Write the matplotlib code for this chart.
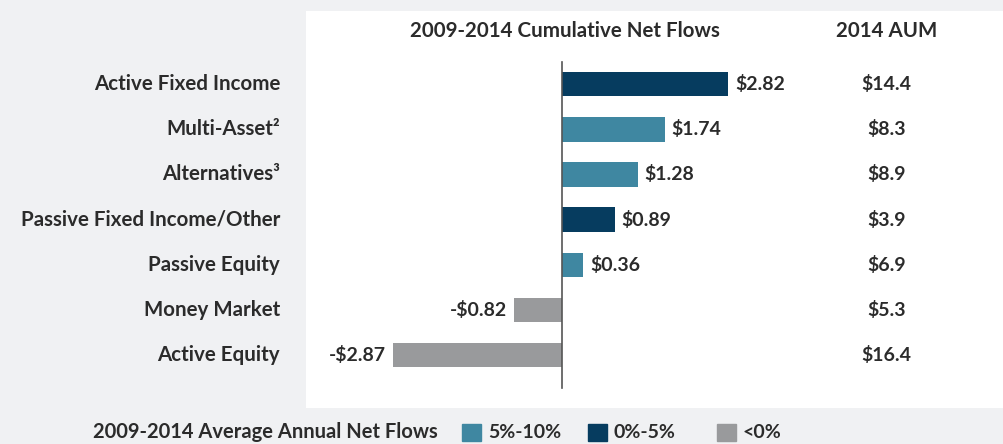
import matplotlib
matplotlib.use("Agg")
import matplotlib.pyplot as plt
from matplotlib.patches import Rectangle

categories = ["Active Fixed Income", "Multi-Asset\u00b2", "Alternatives\u00b3",
              "Passive Fixed Income/Other", "Passive Equity", "Money Market", "Active Equity"]
net_flows = [2.82, 1.74, 1.28, 0.89, 0.36, -0.82, -2.87]
flow_labels = ["$2.82", "$1.74", "$1.28", "$0.89", "$0.36", "-$0.82", "-$2.87"]
aum_labels = ["$14.4", "$8.3", "$8.9", "$3.9", "$6.9", "$5.3", "$16.4"]
growth_band = ["0%-5%", "5%-10%", "5%-10%", "0%-5%", "5%-10%", "<0%", "<0%"]

band_colors = {"5%-10%": "#3f87a1", "0%-5%": "#063c5f", "<0%": "#999a9c"}
legend_order = ["5%-10%", "0%-5%", "<0%"]

plt.rcParams['font.family'] = ['Lato', 'DejaVu Sans']
W, H = 1004, 444
fig = plt.figure(figsize=(W / 100, H / 100), dpi=100, facecolor="#f0f1f3")

# white panel holding the bars
ax = fig.add_axes([306 / W, 1 - 408 / H, (W - 306) / W, (408 - 11) / H])
ax.set_facecolor("white")
ax.set_xlim(-4.34, 7.49)
ax.set_ylim(7.17, -1.62)
for s in ax.spines.values():
    s.set_visible(False)
ax.set_xticks([])
ax.set_yticks([])

txt = dict(color="#2b2b2b", fontsize=14.8, fontweight="bold")
small = dict(txt, fontsize=14)

ypos = list(range(len(categories)))
ax.barh(ypos, net_flows, height=0.54,
        color=[band_colors[b] for b in growth_band])
ax.plot([0, 0], [-0.49, 6.73], color="#555555", lw=1.2)

for y, v, lab, aum, cat in zip(ypos, net_flows, flow_labels, aum_labels, categories):
    if v >= 0:
        ax.text(v + 0.12, y, lab, ha="left", va="center", **small)
    else:
        ax.text(v - 0.12, y, lab, ha="right", va="center", **small)
    ax.text(5.5, y, aum, ha="center", va="center", **small)
    ax.text(-4.78, y, cat, ha="right", va="center", clip_on=False, **txt)

ax.text(0.05, -1.18, "2009-2014 Cumulative Net Flows", ha="center", va="center", **txt)
ax.text(5.5, -1.18, "2014 AUM", ha="center", va="center", **txt)

# legend strip below the panel
ly = 1 - 432 / H
fig.text(93 / W, ly, "2009-2014 Average Annual Net Flows", ha="left", va="center",
         **dict(txt, fontsize=14.5))
sq_x = [462, 588, 717]
for x, band in zip(sq_x, legend_order):
    fig.patches.append(Rectangle((x / W, 1 - 441 / H), 19 / W, 17 / H,
                                 transform=fig.transFigure, color=band_colors[band]))
    fig.text((x + 26) / W, ly, band, ha="left", va="center", **small)

fig.savefig("out.png", dpi=100, facecolor=fig.get_facecolor())
